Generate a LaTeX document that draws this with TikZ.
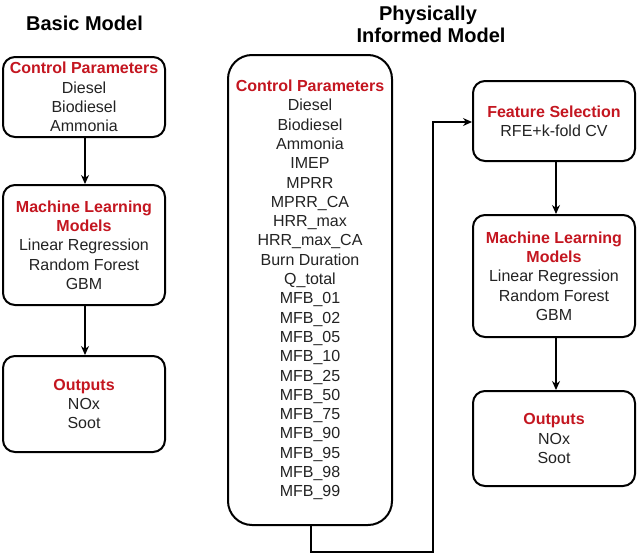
\documentclass[tikz,border=0pt]{standalone}
\usepackage{fontspec}
\setmainfont{Liberation Sans}
\usetikzlibrary{arrows.meta}
\definecolor{hdred}{RGB}{196,22,32}
\definecolor{txt}{RGB}{35,35,35}
\tikzset{
  box/.style={draw=black, line width=2pt, rounded corners=12pt, inner sep=0pt,
    align=center, text=txt, font=\fontsize{16}{19.3}\selectfont},
  bigbox/.style={box, rounded corners=24pt},
  arr/.style={draw=black, line width=1.3pt, -{Stealth[length=9pt,width=8pt]}},
  ttl/.style={font=\bfseries\fontsize{20}{23}\selectfont, text=black, align=center, inner sep=0pt},
}
\newcommand{\hd}[1]{\textcolor{hdred}{\bfseries #1}}
\begin{document}
\begin{tikzpicture}[x=1pt,y=-1pt]
\useasboundingbox[fill=white] (0,0) rectangle (640,557);

% titles
\node[ttl, anchor=base] (t1) at (84.5,30) {Basic Model};
\node[ttl, anchor=base] (t2a) at (428,20) {Physically};
\node[ttl, anchor=base] (t2b) at (431,42) {Informed Model};

% left column
\node[box, minimum width=162pt, minimum height=80pt] (l1) at (84,97)
  {\hd{Control Parameters}\\Diesel\\Biodiesel\\Ammonia};
\node[box, minimum width=162pt, minimum height=120pt] (l2) at (84,245)
  {\hd{Machine Learning}\\\hd{Models}\\Linear Regression\\Random Forest\\GBM};
\node[box, minimum width=162pt, minimum height=96pt] (l3) at (84,404)
  {\hd{Outputs}\\NOx\\Soot};

\draw[arr] (l1.south -| 85,0) -- (l2.north -| 85,0);
\draw[arr] (l2.south -| 85,0) -- (l3.north -| 85,0);

% middle big box
\node[bigbox, minimum width=164pt, minimum height=470pt] (m) at (310,290)
  {\hd{Control Parameters}\\Diesel\\Biodiesel\\Ammonia\\IMEP\\MPRR\\MPRR\_CA\\HRR\_max\\HRR\_max\_CA\\Burn Duration\\Q\_total\\MFB\_01\\MFB\_02\\MFB\_05\\MFB\_10\\MFB\_25\\MFB\_50\\MFB\_75\\MFB\_90\\MFB\_95\\MFB\_98\\MFB\_99};

% right column
\node[box, minimum width=162pt, minimum height=80pt] (r1) at (554,121)
  {\hd{Feature Selection}\\RFE+k-fold CV};
\node[box, minimum width=162pt, minimum height=122pt] (r2) at (554,276)
  {\hd{Machine Learning}\\\hd{Models}\\Linear Regression\\Random Forest\\GBM};
\node[box, minimum width=162pt, minimum height=95pt] (r3) at (554,438.5)
  {\hd{Outputs}\\NOx\\Soot};

\coordinate (c1) at (311,552);
\coordinate (c2) at (433,552);
\coordinate (c3) at (433,122);
\draw[arr] (m.south -| c1) -- (c1) -- (c2) -- (c3) -- (r1.west |- c3);

\draw[arr] (r1.south -| 556,0) -- (r2.north -| 556,0);
\draw[arr] (r2.south -| 556,0) -- (r3.north -| 556,0);
\end{tikzpicture}
\end{document}
